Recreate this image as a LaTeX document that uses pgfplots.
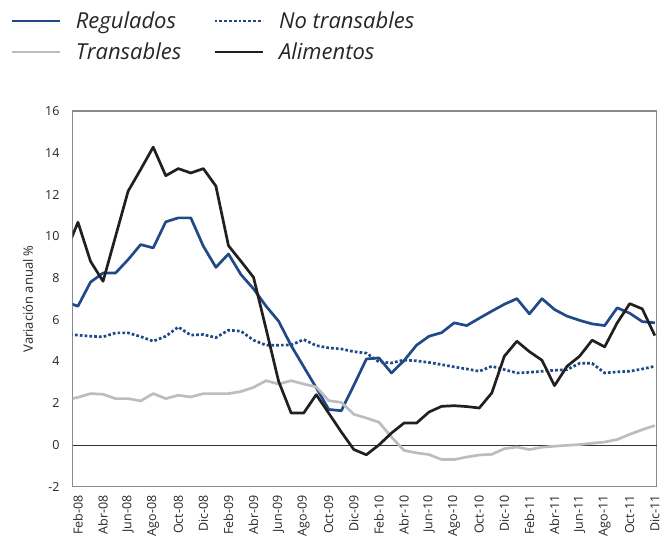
\documentclass[border=0pt]{standalone}
\usepackage{fontspec}
\setmainfont{Open Sans}
\usepackage{pgfplots}
\pgfplotsset{compat=1.18}
\usepackage{pgfplotstable}
\definecolor{regblue}{HTML}{1F4A87}
\definecolor{trgray}{HTML}{BDBDBF}
\definecolor{alblack}{HTML}{231F20}
\definecolor{framegray}{HTML}{8A8A8A}
\pgfplotstableread{
i reg notr tr alim
-1 6.85 5.30 2.15 9.20
0 6.65 5.26 2.28 10.67
1 7.80 5.21 2.46 8.80
2 8.24 5.18 2.43 7.84
3 8.24 5.37 2.22 10.00
4 8.88 5.37 2.22 12.16
5 9.60 5.19 2.11 13.20
6 9.44 4.97 2.46 14.27
7 10.69 5.21 2.22 12.90
8 10.88 5.65 2.38 13.24
9 10.88 5.26 2.30 13.03
10 9.52 5.29 2.46 13.24
11 8.51 5.14 2.46 12.40
12 9.15 5.50 2.46 9.55
13 8.16 5.45 2.56 8.80
14 7.48 5.02 2.76 8.03
15 6.65 4.78 3.08 5.56
16 5.93 4.78 2.92 3.05
17 4.76 4.79 3.08 1.53
18 3.75 5.05 2.92 1.53
19 2.74 4.76 2.78 2.41
20 1.70 4.65 2.12 1.52
21 1.64 4.60 2.04 0.62
22 2.86 4.47 1.47 -0.22
23 4.12 4.40 1.29 -0.47
24 4.17 3.98 1.09 0.00
25 3.45 3.93 0.38 0.57
26 4.04 4.07 -0.26 1.05
27 4.78 4.03 -0.38 1.05
28 5.21 3.95 -0.46 1.58
29 5.38 3.85 -0.70 1.85
30 5.85 3.74 -0.70 1.88
31 5.72 3.64 -0.58 1.84
32 6.07 3.53 -0.48 1.77
33 6.41 3.77 -0.45 2.49
34 6.74 3.61 -0.18 4.25
35 7.01 3.45 -0.10 4.97
36 6.28 3.48 -0.22 4.47
37 7.01 3.53 -0.11 4.06
38 6.49 3.58 -0.06 2.84
39 6.17 3.61 -0.02 3.77
40 5.97 3.91 0.02 4.25
41 5.80 3.91 0.08 5.02
42 5.72 3.45 0.14 4.70
43 6.57 3.50 0.26 5.85
44 6.31 3.53 0.51 6.77
45 5.91 3.64 0.73 6.52
46 5.85 3.77 0.93 5.24
}\datatable
\begin{document}
\begin{tikzpicture}
\path[use as bounding box] (0,0) rectangle (672bp,549bp);
\begin{axis}[
  at={(72.7bp,62.3bp)}, anchor=south west,
  width=584bp, height=375.7bp, scale only axis,
  xmin=-0.42, xmax=46.15, ymin=-2, ymax=16,
  ytick={-2,0,...,16},
  xtick={0,2,...,46},
  xticklabels={Feb-08,Abr-08,Jun-08,Ago-08,Oct-08,Dic-08,Feb-09,Abr-09,Jun-09,Ago-09,Oct-09,Dic-09,Feb-10,Abr-10,Jun-10,Ago-10,Oct-10,Dic-10,Feb-11,Abr-11,Jun-11,Ago-11,Oct-11,Dic-11},
  major tick length=0pt,
  /pgf/number format/assume math mode=true,
  tick label style={font=\fontsize{12.5bp}{15bp}\selectfont, text=black!85},
  xticklabel style={rotate=90, anchor=east, inner xsep=0pt, xshift=1.5bp},
  xticklabel shift=10bp,
  yticklabel style={anchor=east, inner xsep=0pt},
  yticklabel shift=13bp,
  ylabel={Variación anual \%},
  ylabel style={at={(axis description cs:-0.0765,0.5)}, anchor=center, font=\fontsize{13bp}{15bp}\selectfont, text=black!85},
  axis line style={draw=framegray, line width=1.1bp},
  extra y ticks={0}, extra y tick labels={},
  extra y tick style={grid=major, major grid style={black!80, line width=0.6bp}},
  legend columns=2,
  legend cell align=left,
  legend image code/.code={\draw[#1, line width=2.7bp] (0bp,0bp) -- (48bp,0bp);},
  legend style={at={(axis description cs:-0.1070,1.264)}, anchor=north west,
    draw=none, fill=none, inner sep=0pt, outer sep=0pt,
    font=\fontsize{22bp}{26bp}\selectfont\itshape,
    nodes={inner sep=0pt, text=black!85},
    /tikz/every odd column/.append style={column sep=15bp},
    /tikz/every even column/.append style={column sep=32bp},
    row sep=13bp},
]
\addplot[regblue, line width=2.7bp, line join=round] table[x=i,y=reg]{\datatable};
\addlegendentry{Regulados}
\addplot[regblue, line width=2.7bp, dash pattern=on 2.7bp off 2.1bp] table[x=i,y=notr]{\datatable};
\addlegendentry{No transables}
\addplot[trgray, line width=2.7bp, line join=round] table[x=i,y=tr]{\datatable};
\addlegendentry{Transables}
\addplot[alblack, line width=2.7bp, line join=round] table[x=i,y=alim]{\datatable};
\addlegendentry{Alimentos}
\end{axis}
\end{tikzpicture}
\end{document}
